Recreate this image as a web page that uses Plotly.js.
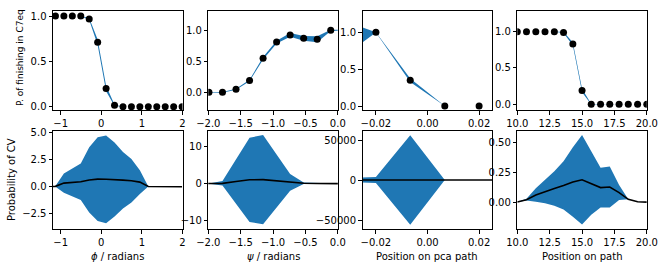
<!DOCTYPE html>
<html>
<head>
<meta charset="utf-8">
<script src="https://cdn.plot.ly/plotly-3.0.1.min.js"></script>
<style>html,body{margin:0;padding:0;background:#fff;}#chart{width:664px;height:271px;}</style>
</head>
<body>
<div id="chart"></div>
<script>
// ---- data ----
// phi panel
const phiX = [-1.338, -1.13, -0.922, -0.714, -0.506, -0.298, -0.09, 0.118, 0.326, 0.534, 0.742, 0.95, 1.158, 1.366, 1.574, 1.782, 1.99];
const phiP = [1, 1, 1, 1, 1, 0.967, 0.71, 0.20, 0.015, 0, 0, 0, 0, 0, 0, 0, 0];
const phiPErr = [0, 0, 0, 0, 0, 0.01, 0.03, 0.03, 0.008, 0, 0, 0, 0, 0, 0, 0, 0];
const phiCVMean = [0, 0.03, 0.33, 0.40, 0.46, 0.62, 0.70, 0.68, 0.66, 0.60, 0.55, 0.42, 0.02, 0, 0, 0, 0];
const phiCVStd = [0, 0.03, 0.88, 1.25, 1.68, 3.0, 3.85, 4.03, 3.4, 2.6, 2.0, 1.1, 0, 0, 0, 0, 0];

// psi panel
const psiX = [-2.199, -1.99, -1.781, -1.572, -1.363, -1.154, -0.945, -0.736, -0.527, -0.318, -0.109, 0.1];
const psiP = [0, 0, 0, 0.048, 0.19, 0.55, 0.81, 0.925, 0.87, 0.855, 1.0, 1.0];
const psiPErr = [0.004, 0.004, 0.005, 0.008, 0.012, 0.02, 0.022, 0.03, 0.038, 0.048, 0.01, 0.006];
const psiCVMean = [0, 0.02, 0.1, 0.6, 1.05, 1.1, 0.75, 0.35, 0.13, 0.05, 0.02, 0];
const psiCVStd = [0, 0.05, 0.6, 6.1, 11.35, 12.0, 7.05, 2.25, 0.23, 0.1, 0.05, 0];

// pca path panel
const pcaX = [-0.0333, -0.02, -0.0067, 0.0067, 0.02, 0.0333];
const pcaP = [0.91, 1.0, 0.35, 0.0, 0.0, 0.0];
const pcaPErr = [0.26, 0.002, 0.025, 0.0, 0.0, 0.0];
const pcaCVMean = [0, 0, 0, 0, 0, 0];
const pcaCVStd = [2500, 3800, 56000, 0, 0, 0];

// path panel
const pathX = [10, 10.71, 11.43, 12.14, 12.86, 13.57, 14.29, 15.0, 15.71, 16.43, 17.14, 17.86, 18.57, 19.29, 20];
const pathP = [1, 1, 1, 1, 1, 0.99, 0.83, 0.19, 0, 0, 0, 0, 0, 0, 0];
const pathPErr = [0, 0, 0, 0, 0, 0.008, 0.02, 0.025, 0.003, 0, 0, 0, 0, 0, 0];
const pathCVMean = [0.005, 0.025, 0.064, 0.093, 0.118, 0.143, 0.172, 0.19, 0.16, 0.125, 0.13, 0.084, 0.028, 0.008, 0.005];
const pathCVStd = [0, 0.007, 0.056, 0.097, 0.143, 0.2, 0.288, 0.37, 0.26, 0.165, 0.17, 0.062, 0, 0, 0];

// tick labels / titles
const yTitleTop = 'P. of finishing in C7eq';
const yTitleBottom = 'Probability of CV';
const xTitles = ['<i>ϕ</i> / radians', '<i>ψ</i> / radians', 'Position on pca path', 'Position on path'];

// ---- build ----
const C0 = '#1f77b4';
const W = 664, H = 271;
function band(x, m, s, xa, ya) {
  const lo = m.map((v, i) => v - s[i]);
  const hi = m.map((v, i) => v + s[i]);
  return [
    {x: x, y: lo, xaxis: xa, yaxis: ya, mode: 'lines', line: {color: C0, width: 0}, hoverinfo: 'skip'},
    {x: x, y: hi, xaxis: xa, yaxis: ya, mode: 'lines', line: {color: C0, width: 0}, fill: 'tonexty', fillcolor: C0, hoverinfo: 'skip'}
  ];
}
function pts(x, y, xa, ya) {
  return {x: x, y: y, xaxis: xa, yaxis: ya, mode: 'markers', marker: {color: 'black', size: 7}, cliponaxis: true};
}
function mline(x, y, xa, ya) {
  return {x: x, y: y, xaxis: xa, yaxis: ya, mode: 'lines', line: {color: 'black', width: 1.6}};
}

const panels = [
  {x: phiX, p: phiP, pe: phiPErr, m: phiCVMean, s: phiCVStd},
  {x: psiX, p: psiP, pe: psiPErr, m: psiCVMean, s: psiCVStd},
  {x: pcaX, p: pcaP, pe: pcaPErr, m: pcaCVMean, s: pcaCVStd},
  {x: pathX, p: pathP, pe: pathPErr, m: pathCVMean, s: pathCVStd}
];

const traces = [];
panels.forEach((pn, i) => {
  const xt = 'x' + (i + 1), yt = 'y' + (i + 1);
  const xb = 'x' + (i + 5), yb = 'y' + (i + 5);
  traces.push(...band(pn.x, pn.p, pn.pe, xt, yt));
  traces.push(pts(pn.x, pn.p, xt, yt));
  traces.push(...band(pn.x, pn.m, pn.s, xb, yb));
  traces.push(mline(pn.x, pn.m, xb, yb));
});

const lefts = [53, 208.3, 362.5, 517.3];
const boxW = 129.5;
const topRow = [11.3, 110];
const botRow = [131, 229];
const xRanges = [[-1.19, 2.0], [-2, 0], [-0.0252, 0.025], [10, 20]];
const xTicks = [[-1, 0, 1, 2], [-2, -1.5, -1, -0.5, 0], [-0.02, 0, 0.02], [10, 12.5, 15, 17.5, 20]];
const xFmt = ['d', '.1f', '.2f', '.1f'];
const yTopRanges = [[-0.036, 1.052], [-0.285, 1.306], [-0.054, 1.285], [-0.079, 1.281]];
const yBotRanges = [[-3.89, 5.12], [-12.2, 14.2], [-61250, 61250], [-0.218, 0.594]];
const yBotTicks = [[-2.5, 0, 2.5, 5], [-10, 0, 10], [-50000, 0, 50000], [0, 0.25, 0.5]];
const yBotFmt = ['.1f', 'd', 'd', '.2f'];

const common = {
  showline: true, linecolor: 'black', linewidth: 1, mirror: true,
  ticks: 'outside', ticklen: 3.5, tickwidth: 1, tickcolor: 'black',
  showgrid: false, zeroline: false, tickfont: {family: 'DejaVu Sans', size: 10, color: 'black'},
  fixedrange: true
};

const layout = {
  width: W, height: H, margin: {l: 0, r: 0, t: 0, b: 0},
  paper_bgcolor: 'white', plot_bgcolor: 'white', showlegend: false,
  font: {family: 'DejaVu Sans', size: 10, color: 'black'},
  annotations: []
};

for (let i = 0; i < 4; i++) {
  const dom = [lefts[i] / W, (lefts[i] + boxW) / W];
  const ydTop = [(H - topRow[1]) / H, (H - topRow[0]) / H];
  const ydBot = [(H - botRow[1]) / H, (H - botRow[0]) / H];
  layout['xaxis' + (i + 1)] = Object.assign({}, common, {domain: dom, anchor: 'y' + (i + 1), range: xRanges[i], tickmode: 'array', tickvals: xTicks[i], tickformat: xFmt[i]});
  layout['yaxis' + (i + 1)] = Object.assign({}, common, {domain: ydTop, anchor: 'x' + (i + 1), range: yTopRanges[i], tickmode: 'array', tickvals: [0, 0.5, 1], tickformat: '.1f'});
  layout['xaxis' + (i + 5)] = Object.assign({}, common, {domain: dom, anchor: 'y' + (i + 5), range: xRanges[i], tickmode: 'array', tickvals: xTicks[i], tickformat: xFmt[i]});
  layout['yaxis' + (i + 5)] = Object.assign({}, common, {domain: ydBot, anchor: 'x' + (i + 5), range: yBotRanges[i], tickmode: 'array', tickvals: yBotTicks[i], tickformat: yBotFmt[i]});
  layout.annotations.push({
    text: xTitles[i], xref: 'paper', yref: 'paper',
    x: (lefts[i] + boxW / 2) / W, y: (H - 256) / H, xanchor: 'center', yanchor: 'middle',
    showarrow: false, font: {family: 'DejaVu Sans', size: 10, color: 'black'}
  });
}
layout.annotations.push({
  text: yTitleTop, xref: 'paper', yref: 'paper', x: 20 / W, y: (H - 58) / H,
  xanchor: 'center', yanchor: 'middle', textangle: -90, showarrow: false,
  font: {family: 'DejaVu Sans', size: 9, color: 'black'}
});
layout.annotations.push({
  text: yTitleBottom, xref: 'paper', yref: 'paper', x: 11 / W, y: (H - 180) / H,
  xanchor: 'center', yanchor: 'middle', textangle: -90, showarrow: false,
  font: {family: 'DejaVu Sans', size: 10, color: 'black'}
});

Plotly.newPlot('chart', traces, layout, {staticPlot: true, displayModeBar: false});
</script>
</body>
</html>
